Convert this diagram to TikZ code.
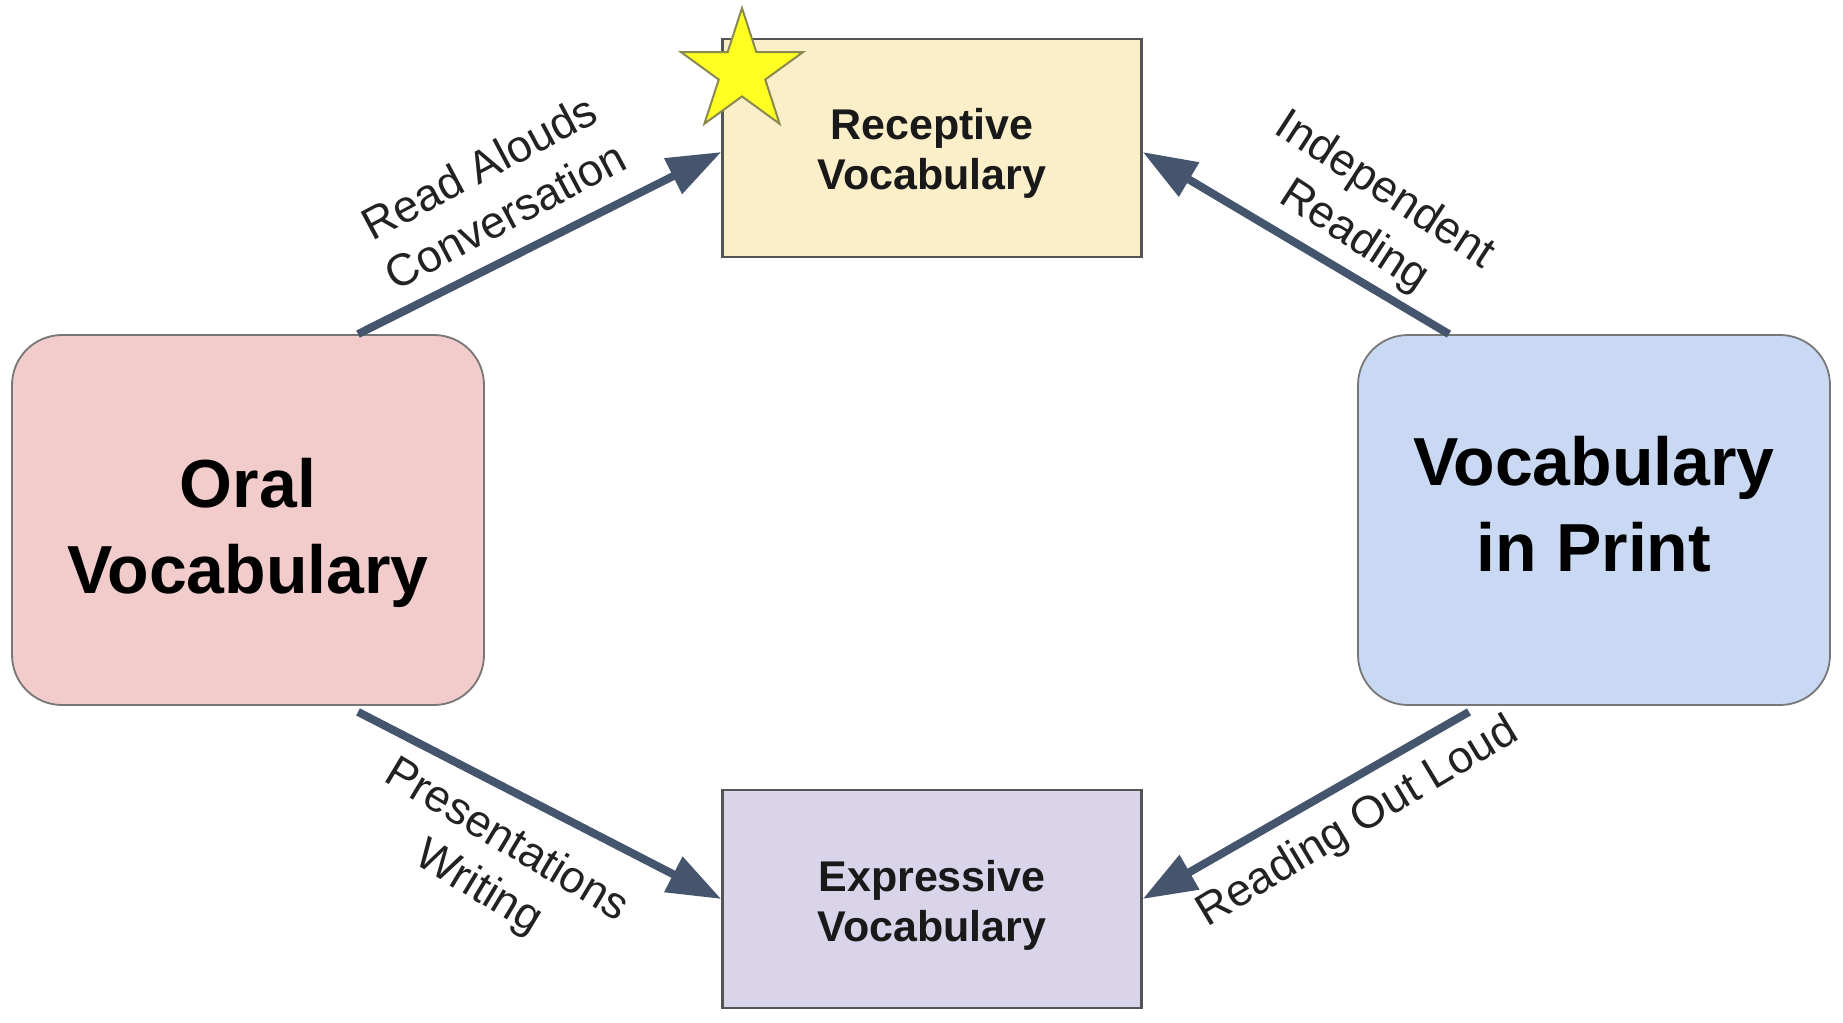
\documentclass[tikz,border=0pt]{standalone}
\usepackage{fontspec}
\setmainfont{Liberation Sans}
\usetikzlibrary{arrows.meta,shapes.geometric}

\definecolor{recfill}{HTML}{FBEFCA}
\definecolor{exprfill}{HTML}{D9D4EA}
\definecolor{oralfill}{HTML}{F2CBCB}
\definecolor{printfill}{HTML}{C9D9F3}
\definecolor{boxline}{HTML}{555555}
\definecolor{softline}{HTML}{777777}
\definecolor{arrowcol}{HTML}{45556E}
\definecolor{starfill}{HTML}{FFFF22}
\definecolor{starline}{HTML}{8A8A50}
\definecolor{labelcol}{HTML}{222222}

\tikzset{
  smallbox/.style={draw=boxline, line width=1.2pt, rectangle, inner sep=0pt,
    minimum width=209.5pt, minimum height=109pt},
  smalltext/.style={align=center, inner sep=0pt,
    font=\fontsize{21.5}{25}\selectfont\bfseries, text=black!90},
  bigbox/.style={draw=softline, line width=0.9pt, rectangle, rounded corners=25pt,
    inner sep=0pt, minimum width=236pt, minimum height=185pt},
  bigtext/.style={align=center, inner sep=0pt,
    font=\fontsize{34}{43}\selectfont\bfseries, text=black},
  flow/.style={draw=arrowcol, line width=4pt,
    -{Triangle[length=27pt, width=19pt]}},
  flowlabel/.style={font=\fontsize{22.5}{27.5}\selectfont, text=labelcol,
    align=center, inner sep=0pt}
}

\begin{document}
\begin{tikzpicture}[x=0.5pt, y=-0.5pt]
  \useasboundingbox[fill=white] (0,0) rectangle (1843,1023);

  % the four vocabulary boxes
  \node[smallbox, fill=recfill]  (rec)   at (932,148) {};
  \node[smallbox, fill=exprfill] (expr)  at (932,899) {};
  \node[bigbox, fill=oralfill]   (oral)  at (248,520) {};
  \node[bigbox, fill=printfill]  (print) at (1594,520) {};

  % box captions
  \node[smalltext] (rectxt)   at ([yshift=-2.5pt]rec.center)  {Receptive\\Vocabulary};
  \node[smalltext] (exprtxt)  at ([yshift=-3pt]expr.center)   {Expressive\\Vocabulary};
  \node[bigtext]   (oraltxt)  at ([yshift=-6.5pt]oral.center) {Oral\\Vocabulary};
  \node[bigtext]   (printtxt) at ([yshift=8pt]print.center)   {Vocabulary\\in Print};

  % star on the top-left corner of the receptive box
  \node[star, star points=5, star point ratio=2.618, minimum size=64pt,
        inner sep=0pt, fill=starfill, draw=starline, line width=1pt]
        (badge) at (742,72) {};

  % connectors
  \draw[flow] ([xshift=55pt]oral.north) -- ([yshift=-2pt]rec.west);
  \draw[flow] ([xshift=-72.5pt]print.north) -- ([yshift=-2pt]rec.east);
  \draw[flow] ([xshift=55pt,yshift=-3pt]oral.south) -- (expr.west);
  \draw[flow] ([xshift=-62.5pt,yshift=-3pt]print.south) -- (expr.east);

  % connector labels
  \node[flowlabel, rotate=28]  (lbl1) at (492,191) {Read Alouds\\Conversation};
  \node[flowlabel, rotate=-33] (lbl2) at (1369,214) {Independent\\Reading};
  \node[flowlabel, rotate=-31] (lbl3) at (492,865) {Presentations\\Writing};
  \node[flowlabel, rotate=31]  (lbl4) at (1358,823) {Reading Out Loud};
\end{tikzpicture}
\end{document}
